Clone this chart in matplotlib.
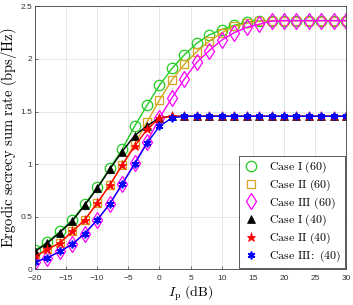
import matplotlib
matplotlib.use("Agg")
import matplotlib.pyplot as plt
from matplotlib.lines import Line2D

plt.rcParams['mathtext.fontset'] = 'cm'

x_db = list(range(-20, 31, 2))
case1_60 = [0.18, 0.26, 0.36, 0.47, 0.62, 0.78, 0.96, 1.14, 1.36, 1.56, 1.75, 1.91, 2.04,
            2.15, 2.23, 2.28, 2.32, 2.35, 2.36, 2.365, 2.365, 2.365, 2.365, 2.365, 2.365, 2.365]
case2_60 = [0.12, 0.19, 0.25, 0.36, 0.47, 0.63, 0.80, 0.99, 1.19, 1.40, 1.61, 1.80, 1.95,
            2.07, 2.17, 2.25, 2.31, 2.34, 2.36, 2.365, 2.365, 2.365, 2.365, 2.365, 2.365, 2.365]
case3_60 = [0.07, 0.11, 0.17, 0.24, 0.34, 0.47, 0.62, 0.81, 1.01, 1.21, 1.44, 1.63, 1.81,
            1.97, 2.08, 2.18, 2.25, 2.30, 2.33, 2.36, 2.365, 2.365, 2.365, 2.365, 2.365, 2.365]
case1_40 = [0.17, 0.25, 0.35, 0.46, 0.61, 0.77, 0.95, 1.12, 1.27, 1.365, 1.44, 1.455, 1.455,
            1.455, 1.455, 1.455, 1.455, 1.455, 1.455, 1.455, 1.455, 1.455, 1.455, 1.455, 1.455, 1.455]
case2_40 = [0.12, 0.19, 0.25, 0.36, 0.47, 0.63, 0.80, 0.99, 1.17, 1.33, 1.44, 1.455, 1.455,
            1.455, 1.455, 1.455, 1.455, 1.455, 1.455, 1.455, 1.455, 1.455, 1.455, 1.455, 1.455, 1.455]
case3_40 = [0.07, 0.11, 0.17, 0.24, 0.34, 0.47, 0.62, 0.81, 1.00, 1.20, 1.36, 1.44, 1.455,
            1.455, 1.455, 1.455, 1.455, 1.455, 1.455, 1.455, 1.455, 1.455, 1.455, 1.455, 1.455, 1.455]

labels = [r'$\mathrm{Case\ I\ (60)}$', r'$\mathrm{Case\ II\ (60)}$', r'$\mathrm{Case\ III\ (60)}$',
          r'$\mathrm{Case\ I\ (40)}$', r'$\mathrm{Case\ II\ (40)}$', r'$\mathrm{Case\ III\!:\ (40)}$']
xticks = [-20, -15, -10, -5, 0, 5, 10, 15, 20, 25, 30]
yticks = [0, 0.5, 1, 1.5, 2, 2.5]
ytick_labels = ['0', '0.5', '1', '1.5', '2', '2.5']

green = '#22cc22'
gold = '#d9a520'
styles = [
    dict(color=green, marker='o', ms=7.5, mfc='none', mec=green, mew=0.9),
    dict(color=gold, marker='s', ms=5.5, mfc='none', mec=gold, mew=0.9),
    dict(color='#ff00ff', marker='d', ms=8, mfc='none', mec='#ff00ff', mew=0.9),
    dict(color='black', marker='^', ms=5.5, mfc='black', mec='black', mew=0.5),
    dict(color='red', marker='*', ms=6.5, mfc='red', mec='red', mew=0.5),
    dict(color='blue', marker=(6, 2, 0), ms=5.5, mfc='blue', mec='blue', mew=1.2),
]
series = [case1_60, case2_60, case3_60, case1_40, case2_40, case3_40]

fig = plt.figure(figsize=(3.53, 3.05), dpi=100)
ax = fig.add_axes([0.099, 0.117, 0.882, 0.862])

handles = []
for ys, st, lab in zip(series, styles, labels):
    ax.plot(x_db, ys, lw=1.0, **st)
    handles.append(Line2D([], [], linestyle='none', label=lab, **st))

ax.set_xlim(-20, 30)
ax.set_ylim(0, 2.5)
ax.set_xticks(xticks)
ax.set_yticks(yticks)
ax.set_yticklabels(ytick_labels)
ax.grid(True, color='#e6e6e6', lw=0.7)
ax.set_axisbelow(True)
for sp in ax.spines.values():
    sp.set_color('#404040')
    sp.set_linewidth(0.6)
ax.tick_params(direction='in', length=2.5, width=0.5, colors='#404040', labelsize=6)
ax.tick_params(axis='y', pad=2)
ax.tick_params(axis='x', pad=4)
for t in ax.get_xticklabels() + ax.get_yticklabels():
    t.set_fontfamily('Liberation Sans')
    t.set_color('#333333')

ax.set_xlabel(r'$I_{\mathrm{p}}\ \mathrm{(dB)}$', fontsize=10, labelpad=1)
ax.set_ylabel(r'$\mathrm{Ergodic\ secrecy\ sum\ rate\ (bps/Hz)}$', fontsize=10.5)
ax.yaxis.set_label_coords(-0.05, 0.5)

leg = ax.legend(handles=handles, loc='lower right', fontsize=8.6, frameon=True, fancybox=False,
                edgecolor='#404040', framealpha=1, borderaxespad=0.15, handlelength=1.5,
                handletextpad=0.7, labelspacing=0.2, borderpad=0.3)
leg.get_frame().set_linewidth(0.6)

fig.savefig('out.png', dpi=100)
